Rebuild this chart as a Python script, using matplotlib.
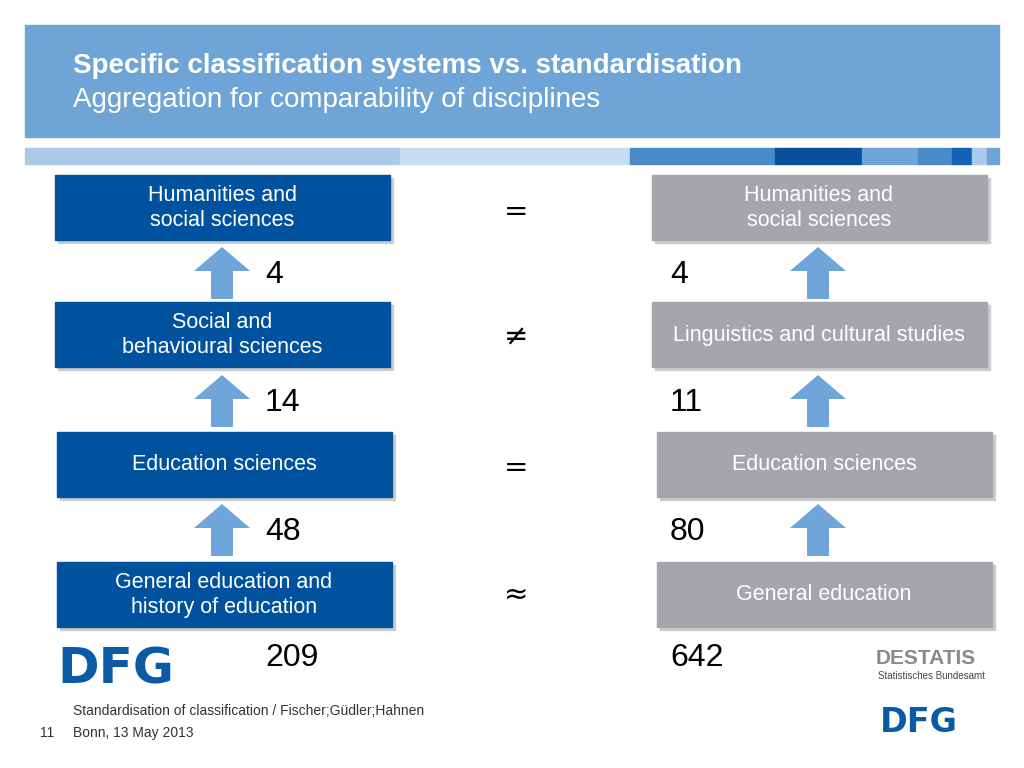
import matplotlib
matplotlib.use("Agg")
import matplotlib.pyplot as plt
from matplotlib.patches import Rectangle, FancyArrow

left_labels = ["Humanities and\nsocial sciences", "Social and\nbehavioural sciences",
               "Education sciences", "General education and\nhistory of education"]
right_labels = ["Humanities and\nsocial sciences", "Linguistics and cultural studies",
                "Education sciences", "General education"]
left_counts = [4, 14, 48, 209]
right_counts = [4, 11, 80, 642]
relations = ["=", "≠", "=", "≈"]

fig = plt.figure(figsize=(10.24, 7.68), dpi=100)
ax = fig.add_axes([0, 0, 1, 1])
ax.set_xlim(0, 1024); ax.set_ylim(768, 0); ax.axis("off")
F = "Liberation Sans"

ax.add_patch(Rectangle((25, 25), 974, 112, color="#6fa5d6"))
ax.text(73, 66, "Specific classification systems vs. standardisation", color="white",
        fontsize=20, fontweight="bold", family=F, va="center")
ax.text(73, 100, "Aggregation for comparability of disciplines", color="white",
        fontsize=20, family=F, va="center")

segs = [(25, 400, "#a9cbe9"), (400, 630, "#c7dcf0"), (630, 775, "#4a8ac9"), (775, 862, "#0b4f9c"),
        (862, 918, "#6fa5d6"), (918, 952, "#4a8ac9"), (952, 972, "#1263b3"),
        (972, 987, "#a9cbe9"), (987, 999, "#6fa5d6")]
for a, b, c in segs:
    ax.add_patch(Rectangle((a, 148), b - a, 16, color=c))

tops = [175, 302, 432, 562]
lx = [55, 55, 57, 57]
rx = [652, 652, 657, 657]
numy = [275, 403, 532, 658]
rely = [212, 338, 468, 595]
for i in range(4):
    for x, col, lab in [(lx[i], "#00529f", left_labels[i]), (rx[i], "#a5a6a9", right_labels[i])]:
        ax.add_patch(Rectangle((x + 3, tops[i] + 3), 335, 65, color="#cccccc", zorder=1))
        ax.add_patch(Rectangle((x, tops[i]), 335, 65, color=col, zorder=2))
        ax.text(x + 167, tops[i] + 33, lab, color="white", fontsize=15.5, family=F,
                ha="center", va="center", linespacing=1.25, zorder=3)
    ax.text(265, numy[i], str(left_counts[i]), fontsize=23, family=F, va="center")
    ax.text(670, numy[i], str(right_counts[i]), fontsize=23, family=F, va="center")
    ax.text(516, rely[i], relations[i], fontsize=21, family="DejaVu Sans", ha="center", va="center")
    if i < 3:
        for cx in (222, 818):
            ax.add_patch(FancyArrow(cx, numy[i] + 24, 0, -52, width=22, head_width=56,
                                    head_length=24, length_includes_head=True,
                                    color="#6fa5d8", lw=0))

ax.text(57, 670, "DFG", fontsize=36, fontweight="bold", color="#0b5aa6", family="DejaVu Sans",
        va="center")
ax.text(876, 658, "DESTATIS", fontsize=15, fontweight="bold", color="#8a8a8a", family=F, va="center")
ax.text(878, 676, "Statistisches Bundesamt", fontsize=7, color="#444444", family=F, va="center")
ax.text(880, 722, "DFG", fontsize=24, fontweight="bold", color="#0b5aa6", family="DejaVu Sans",
        va="center")
ax.text(73, 711, "Standardisation of classification / Fischer;Güdler;Hahnen", fontsize=10,
        color="#333333", family=F, va="center")
ax.text(73, 733, "Bonn, 13 May 2013", fontsize=10, color="#333333", family=F, va="center")
ax.text(40, 733, "11", fontsize=10, color="#333333", family=F, va="center")

fig.savefig("out.png", dpi=100)
